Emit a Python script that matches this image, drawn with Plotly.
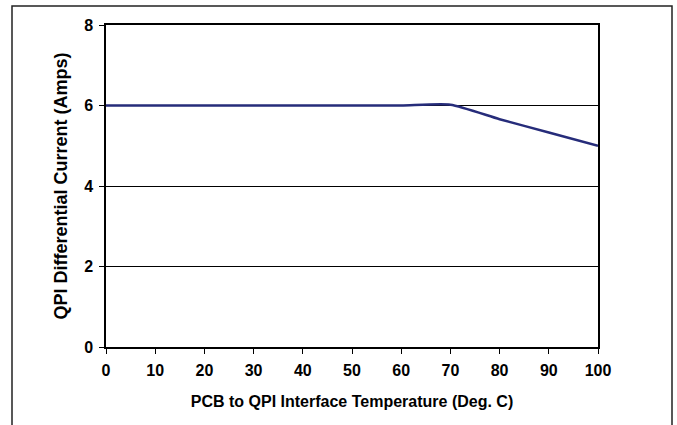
import plotly.graph_objects as go

temperature = [0, 10, 20, 30, 40, 50, 60, 70, 80, 90, 100]
current = [6.0, 6.0, 6.0, 6.0, 6.0, 6.0, 6.0, 6.02, 5.66, 5.33, 5.0]
x_ticks = [0, 10, 20, 30, 40, 50, 60, 70, 80, 90, 100]
y_ticks = [0, 2, 4, 6, 8]

fig = go.Figure()
fig.add_trace(go.Scatter(
    x=temperature, y=current, mode="lines",
    line=dict(color="#262C7A", width=2.5, shape="spline", smoothing=0.6),
    showlegend=False, hoverinfo="skip",
))

font = dict(family="Liberation Sans, Arial, sans-serif", size=16, color="#000")

fig.update_layout(
    width=677, height=425,
    margin=dict(l=106, r=79, t=25, b=78),
    paper_bgcolor="white", plot_bgcolor="white",
    font=font,
    xaxis=dict(
        range=[0, 100], tickvals=x_ticks, ticktext=[f"<b>{v}</b>" for v in x_ticks],
        showgrid=False, zeroline=False,
        showline=True, linecolor="#000", linewidth=1.5, mirror=True,
        ticks="outside", ticklen=5, tickcolor="#000", tickwidth=1,
        ticklabelstandoff=3,
        title=dict(text="<b>PCB to QPI Interface Temperature (Deg. C)</b>", font=dict(size=16), standoff=18),
    ),
    yaxis=dict(
        range=[0, 8], tickvals=y_ticks, ticktext=[f"<b>{v}</b>" for v in y_ticks],
        showgrid=True, gridcolor="#000", gridwidth=1, zeroline=False,
        showline=True, linecolor="#000", linewidth=1.5, mirror=True,
        ticks="outside", ticklen=5, tickcolor="#000", tickwidth=1,
        ticklabelstandoff=3,
        title=dict(text="<b>QPI Differential Current (Amps)</b>", font=dict(size=18), standoff=12),
    ),
    shapes=[dict(
        type="rect", xref="paper", yref="paper",
        x0=(12 - 106) / 492, x1=(672 - 106) / 492,
        y0=(347 - 440) / 322, y1=(347 - 6) / 322,
        line=dict(color="#222", width=1.5), fillcolor="rgba(0,0,0,0)", layer="below",
    )],
)

fig.write_html(
    "out.html",
    config={"displayModeBar": False},
    post_script="document.body.style.margin='0';document.body.style.padding='0';",
)
